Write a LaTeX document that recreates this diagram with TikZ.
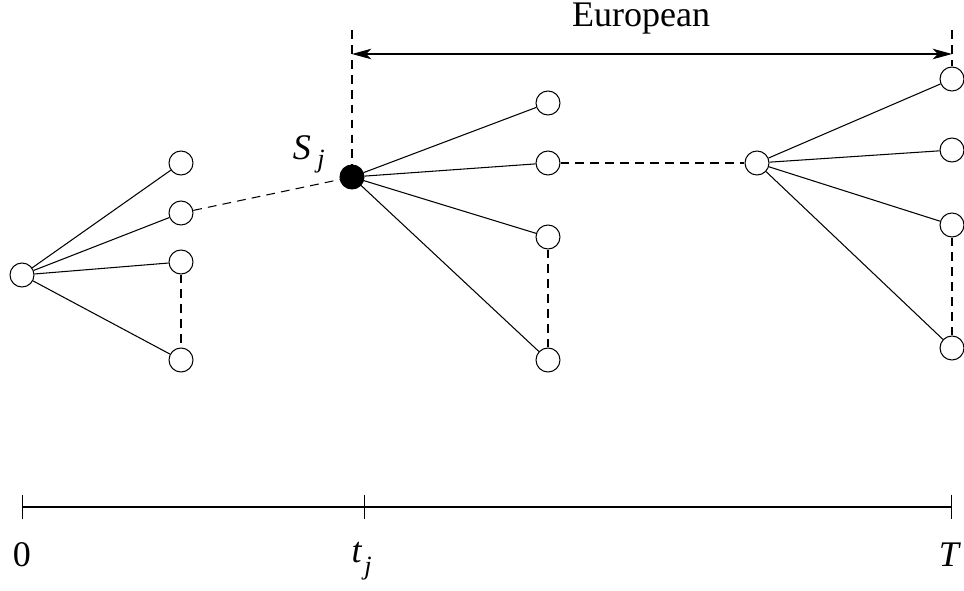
\documentclass[tikz,border=0pt]{standalone}
\usepackage{fontspec}
\setmainfont{Liberation Serif}
\usepackage{tikz}
\usetikzlibrary{arrows.meta}

\begin{document}
\begin{tikzpicture}[
  x=0.02cm, y=-0.02cm,
  font=\fontsize{20.5}{24}\selectfont,
  line width=0.6pt,
  state/.style={circle, draw, fill=white, inner sep=0pt, minimum size=0.48cm},
  hit/.style={circle, draw, fill=black, inner sep=0pt, minimum size=0.48cm},
  link/.style={line width=0.6pt},
  gap/.style={dash pattern=on 5pt off 3.5pt, line width=0.6pt},
  sub/.style={font=\fontsize{15}{18}\selectfont\itshape},
]
\useasboundingbox (0,0) rectangle (964,591);

% first tree
\node[state] (root) at (22,275) {};
\node[state] (a1) at (181,163) {};
\node[state] (a2) at (181,213) {};
\node[state] (a3) at (181,262) {};
\node[state] (a4) at (181,360) {};

% exercise point
\node[hit] (sj) at (352,177) {};
\node (lsj) at (302,148) {\textit{S}};
\node[sub] (lsj2) at (321,162) {j};

% second tree
\node[state] (b1) at (548,103) {};
\node[state] (b2) at (548,163) {};
\node[state] (b3) at (548,237) {};
\node[state] (b4) at (548,360) {};
\node[state] (c) at (757,163) {};

% third tree
\node[state] (d1) at (952,79) {};
\node[state] (d2) at (952,150) {};
\node[state] (d3) at (952,225) {};
\node[state] (d4) at (952,348) {};

\foreach \n in {a1,a2,a3,a4} \draw[link] (root) -- (\n);
\foreach \n in {b1,b2,b3,b4} \draw[link] (sj) -- (\n);
\foreach \n in {d1,d2,d3,d4} \draw[link] (c) -- (\n);

\draw[gap] (a3) -- (a4);
\draw[gap] (a2) -- (sj);
\draw[gap] (b2) -- (c);
\draw[gap] (b3) -- (b4);
\draw[gap] (d3) -- (d4);

% european window
\coordinate (top1) at (352,30);
\coordinate (top2) at (952,30);
\coordinate (eu1) at (352,54);
\coordinate (eu2) at (952,54);
\draw[gap] (top1) -- (sj);
\draw[gap] (top2) -- (d1);
\draw[{Stealth[length=11pt,width=6pt,inset=3pt]}-{Stealth[length=11pt,width=6pt,inset=3pt]}] (eu1) -- (eu2);
\node (eu) at (641,19) {European};

% time axis
\coordinate (t0) at (22,507);
\coordinate (tj) at (365,507);
\coordinate (tT) at (952,507);
\draw[{Bar[width=14pt]}-{Bar[width=14pt]}] (t0) -- (tj);
\draw[-{Bar[width=14pt]}] (tj) -- (tT);
\node (l0) at (22,555) {0};
\node (ltj) at (357,553) {\textit{t}};
\node[sub] (ltj2) at (368,569) {j};
\node (lT) at (950,555) {\textit{T}};
\end{tikzpicture}
\end{document}
